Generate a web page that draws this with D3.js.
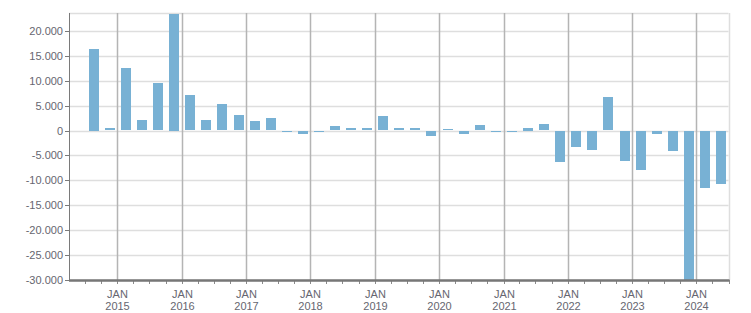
<!DOCTYPE html>
<html>
<head>
<meta charset="utf-8">
<script src="https://cdn.jsdelivr.net/npm/d3@7"></script>
<style>
  body { margin: 0; background: #fff; }
  svg text { font-family: "Liberation Sans", Arial, sans-serif; font-size: 11px; fill: #666670; }
</style>
</head>
<body>
<svg></svg>
<script>
const width = 751, height = 313;
const margin = { left: 69, right: 22.5, top: 13, bottom: 33 };

// quarterly values, Q3 2014 .. Q2 2024
const quarterStarts = [];
for (let y = 2014, q = 2; quarterStarts.length < 40; q++) {
  if (q > 3) { q = 0; y++; }
  quarterStarts.push(new Date(y, q * 3, 1));
}
const values = [
  16400, 500, 12500, 2100, 9500, 23400, 7100, 2100, 5300, 3100,
  1900, 2500, -150, -550, -150, 850, 450, 450, 2900, 450,
  450, -1000, 250, -550, 1050, -150, -150, 600, 1250, -6300,
  -3200, -3800, 6700, -6100, -7900, -550, -4000, -30000, -11500, -10700
];
const yTicks = [-30000, -25000, -20000, -15000, -10000, -5000, 0, 5000, 10000, 15000, 20000];
const yearTicks = d3.range(2015, 2025).map(y => new Date(y, 0, 1));

const locale = d3.formatLocale({ decimal: ",", thousands: ".", grouping: [3], currency: ["", ""], minus: "-" });
const fmt = locale.format(",d");

const svg = d3.select('svg')
  .attr('width', width)
  .attr('height', height);

const x = d3.scaleTime()
  .domain([new Date(2014, 3, 1), new Date(2024, 6, 1)])
  .range([margin.left, width - margin.right]);

const y = d3.scaleLinear()
  .domain([-30000, 23600])
  .range([height - margin.bottom, margin.top]);

const plotTop = margin.top, plotBottom = height - margin.bottom;
const plotLeft = margin.left, plotRight = width - margin.right;

// horizontal grid
svg.append('g')
  .selectAll('line')
  .data(yTicks)
  .join('line')
  .attr('x1', plotLeft)
  .attr('x2', plotRight)
  .attr('y1', d => Math.round(y(d)) + 0.5)
  .attr('y2', d => Math.round(y(d)) + 0.5)
  .attr('stroke', '#dedede')
  .attr('stroke-width', 1.5);

// plot border top/right
svg.append('line')
  .attr('x1', plotLeft).attr('x2', plotRight)
  .attr('y1', plotTop + 0.5).attr('y2', plotTop + 0.5)
  .attr('stroke', '#dedede').attr('stroke-width', 1.5);
svg.append('line')
  .attr('x1', Math.round(plotRight) + 0.5).attr('x2', Math.round(plotRight) + 0.5)
  .attr('y1', plotTop).attr('y2', plotBottom)
  .attr('stroke', '#dedede').attr('stroke-width', 1.5);

// vertical year grid
svg.append('g')
  .selectAll('line')
  .data(yearTicks)
  .join('line')
  .attr('x1', d => Math.round(x(d)) + 0.5)
  .attr('x2', d => Math.round(x(d)) + 0.5)
  .attr('y1', plotTop)
  .attr('y2', plotBottom)
  .attr('stroke', '#b4b4b4')
  .attr('stroke-width', 1.5);

// bars
svg.append('clipPath').attr('id', 'clip')
  .append('rect')
  .attr('x', plotLeft).attr('y', plotTop)
  .attr('width', plotRight - plotLeft).attr('height', plotBottom - plotTop);

svg.append('g')
  .attr('clip-path', 'url(#clip)')
  .selectAll('rect')
  .data(values)
  .join('rect')
  .attr('x', (d, i) => {
    const s = quarterStarts[i], e = d3.timeMonth.offset(s, 3);
    return Math.round((x(s) + x(e)) / 2 - 4.5);
  })
  .attr('width', 10)
  .attr('y', d => Math.round(y(Math.max(0, d))))
  .attr('height', d => Math.max(1, Math.round(Math.abs(y(d) - y(0)))))
  .attr('fill', '#78b1d4');

// left axis
svg.append('line')
  .attr('x1', plotLeft + 0.5).attr('x2', plotLeft + 0.5)
  .attr('y1', plotTop).attr('y2', plotBottom)
  .attr('stroke', '#7a7a7a').attr('stroke-width', 1);

const yTickG = svg.append('g')
  .selectAll('g')
  .data(yTicks)
  .join('g')
  .attr('transform', d => `translate(0,${Math.round(y(d)) + 0.5})`);
yTickG.append('line')
  .attr('x1', plotLeft - 4).attr('x2', plotLeft)
  .attr('stroke', '#7a7a7a');
yTickG.append('text')
  .attr('x', plotLeft - 6)
  .attr('dy', '0.36em')
  .attr('text-anchor', 'end')
  .text(d => fmt(d));

// bottom axis
const quarterTicks = d3.timeMonth.every(3).range(new Date(2014, 6, 1), new Date(2024, 6, 2));
svg.append('g')
  .selectAll('line')
  .data(quarterTicks)
  .join('line')
  .attr('x1', d => Math.round(x(d)) + 0.5)
  .attr('x2', d => Math.round(x(d)) + 0.5)
  .attr('y1', plotBottom)
  .attr('y2', plotBottom + 4)
  .attr('stroke', '#8a8a8a');

svg.append('line')
  .attr('x1', plotLeft).attr('x2', plotRight + 1)
  .attr('y1', plotBottom + 0.5).attr('y2', plotBottom + 0.5)
  .attr('stroke', '#777').attr('stroke-width', 2.5);

const xLab = svg.append('g')
  .selectAll('text')
  .data(yearTicks)
  .join('text')
  .attr('text-anchor', 'middle')
  .attr('transform', d => `translate(${Math.round(x(d)) + 0.5},0)`);
xLab.append('tspan').attr('x', 0).attr('y', 298).text('JAN');
xLab.append('tspan').attr('x', 0).attr('y', 310).text(d => d.getFullYear());
</script>
</body>
</html>
